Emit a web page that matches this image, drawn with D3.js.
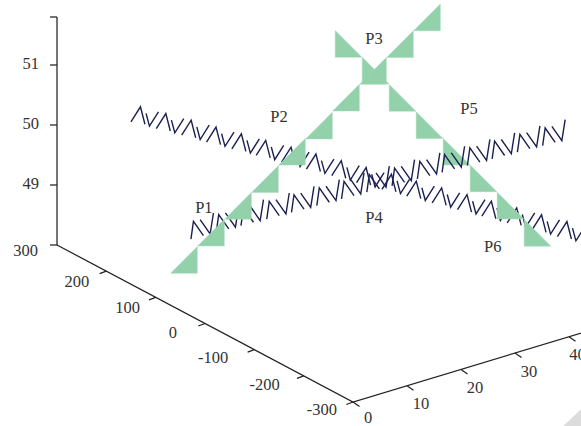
<!DOCTYPE html>
<html><head><meta charset="utf-8">
<script src="https://cdn.jsdelivr.net/npm/d3@7/dist/d3.min.js"></script>
<style>html,body{margin:0;padding:0;background:#fff;overflow:hidden}svg{display:block}text{font-family:"Liberation Serif",serif;fill:#333}</style>
</head><body><svg id="c" width="581" height="426"></svg>
<script>
const xTicks=[0,10,20,30,40];
const yTicks=[300,200,100,0,-100,-200,-300];
const zTicks=[49,50,51];
const pointLabels=["P1","P2","P3","P4","P5","P6"];
const labelX=[-0.2,13.7,31.3,31.3,48.9,53.3];
const labelY=[0,0,0,0,0,0];
const labelZ=[49.84,50.99,51.8,48.82,50.17,47.75];

const riseX=[10,15,20,25,30,35,40,45,50,55];
const riseY=[125,125,125,125,125,125,125,125,125,125];
const riseZ=[48.02,48.34,48.65,48.96,49.28,49.58,49.91,50.22,50.53,50.84];

const fallX=[20,25,30,35,40,45,50,55];
const fallY=[-45,-45,-45,-45,-45,-45,-45,-45];
const fallZ=[52.09,51.51,50.92,50.33,49.75,49.17,48.58,47.99];

const wave1X=[13.9,15.4,16.9,18.3,19.8,21.2,22.7,24.1,25.6,27.0,28.5,29.9,31.4,32.9,34.3,35.8,37.2,38.7];
const wave1Y=[283,248,213,178,143,109,74,39,4,-31,-66,-101,-136,-171,-205,-240,-275,-310];
const wave1Z=[50,50,50,50,50,50,50,50,50,50,50,50,50,50,50,50,50,50];

const wave2X=[8.0,12.5,16.9,21.4,25.8,30.3,34.7,39.2,43.6,48.1,52.5,57.0,61.4,65.9,70.3];
const wave2Y=[111,109,107,104,102,100,98,96,93,91,89,87,85,83,80];
const wave2Z=[49,49,49,49,49,49,49,49,49,49,49,49,49,49,49];

// oblique projection built from one scale per data axis and screen direction
const xH=d3.scaleLinear().domain([0,10]).range([353,407]);
const xV=d3.scaleLinear().domain([0,10]).range([402,385.7]);
const yH=d3.scaleLinear().domain([-300,300]).range([0,-296]);
const yV=d3.scaleLinear().domain([-300,300]).range([0,-157]);
const zV=d3.scaleLinear().domain([48,49]).range([0,-60]);
const P=(x,y,z)=>[xH(x)+yH(y),xV(x)+yV(y)+zV(z)];

const svg=d3.select("#c");
const line=d3.line();
const FS=16.5;

// floor corner
svg.append("path").attr("d","M563.3,426L581,409.3L581,426Z").attr("fill","#dcdcdc");

// axes
const ink="#222";
const axes=svg.append("g").attr("stroke",ink).attr("stroke-width",1.25).attr("fill","none");
axes.append("path").attr("d",line([P(0,300,48),P(0,-300,48),P(50,-300,48)]));
axes.append("path").attr("d",line([P(0,300,48),P(0,300,51.8)]));
const tick=(p,dx,dy)=>axes.append("path").attr("d",line([p,[p[0]+dx,p[1]+dy]]));
xTicks.forEach(t=>tick(P(t,-300,48),6.5,4.5));
yTicks.forEach(t=>tick(P(0,t,48),t===300?-7:-6.7,t===300?0:2.5));
zTicks.concat([51.8]).forEach(t=>tick(P(0,300,t),-7,0));

const text=(s,x,y,a)=>svg.append("text").attr("x",x).attr("y",y).attr("text-anchor",a).attr("font-size",FS).text(s);
xTicks.forEach(t=>{const p=P(t,-300,48);const o=t===0?[15,20.5]:t===40?[8.5,23.5]:[14,23.5];text(t,p[0]+o[0],p[1]+o[1],"middle");});
const yShift=new Map([[300,[-19,10.5]],[200,[-17,16]],[100,[-15.6,16]],[0,[-28,14]],[-100,[-26,13.5]],[-200,[-24,14.5]],[-300,[-16,12.5]]]);
yTicks.forEach(t=>{const p=P(0,t,48),o=yShift.get(t);text(t,p[0]+o[0],p[1]+o[1],"end");});
zTicks.forEach(t=>{const p=P(0,300,t);text(t,p[0]-18,p[1]+4,"end");});

// zigzag series: one peak and one trough drawn for every sample
const ZIG="#1b2050";
function waves(xs,ys,zs,m){
  const g=svg.append("g").attr("fill","none").attr("stroke",ZIG).attr("stroke-width",1.4);
  xs.forEach((x,i)=>{
    const p=P(x,ys[i],zs[i]);
    const q=[p[0]+m.trough[0],p[1]+m.trough[1]];
    g.append("path").attr("d",line([[p[0]+m.pl[0],p[1]+m.pl[1]],p,[p[0]+m.pr[0],p[1]+m.pr[1]]]));
    g.append("path").attr("d",line([[q[0]+m.tl[0],q[1]+m.tl[1]],q,[q[0]+m.tr[0],q[1]+m.tr[1]]]));
  });
}
// stepped triangles
const GREEN="#93d1ab";
function tris(xs,ys,zs,verts){
  const g=svg.append("g").attr("fill",GREEN).attr("stroke","#a6dabb").attr("stroke-width",0.5);
  xs.forEach((x,i)=>{
    const p=P(x,ys[i],zs[i]);
    g.append("path").attr("d",line(verts.map(v=>[p[0]+v[0],p[1]+v[1]]))+"Z");
  });
}
const S=26.7;
waves(wave1X,wave1Y,wave1Z,{pl:[-9.5,15],pr:[4.5,17.5],trough:[9,19.3],tl:[-3.4,-12.7],tr:[9,-14.3]});
tris(fallX,fallY,fallZ,[[0,0],[0,-S],[S,0]]);
waves(wave2X,wave2Y,wave2Z,{pl:[-2.5,17.7],pr:[10,14.3],trough:[16.7,12.6],tl:[-10,-14.3],tr:[3.3,-21]});
tris(riseX,riseY,riseZ,[[0,0],[-S,0],[0,-S]]);

pointLabels.forEach((s,i)=>{const p=P(labelX[i],labelY[i],labelZ[i]);text(s,p[0],p[1],"middle");});
</script></body></html>
